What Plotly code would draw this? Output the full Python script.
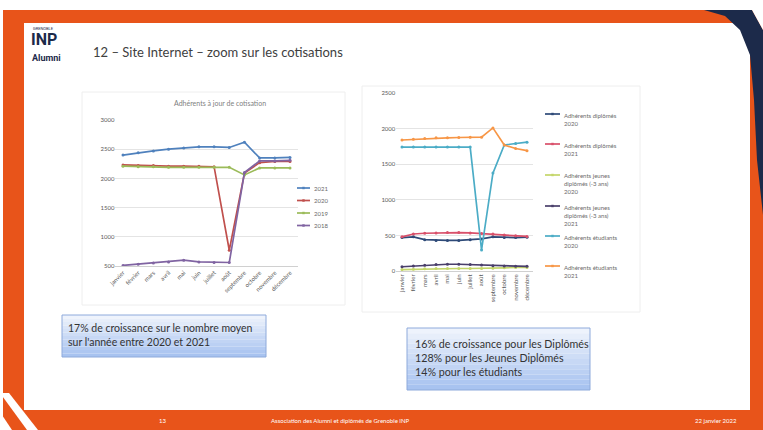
import plotly.graph_objects as go

W, H = 763, 430
def px(x): return x / W
def py(y): return 1 - y / H

# ---------------- data ----------------
months = ["janvier", "février", "mars", "avril", "mai", "juin", "juillet",
          "août", "septembre", "octobre", "novembre", "décembre"]

left_names = ["2021", "2020", "2019", "2018"]
left_2021 = [2400, 2440, 2470, 2500, 2520, 2540, 2540, 2530, 2620, 2350, 2350, 2360]
left_2020 = [2230, 2220, 2220, 2210, 2210, 2210, 2200, 770, 2090, 2270, 2290, 2290]
left_2019 = [2210, 2200, 2200, 2190, 2190, 2190, 2190, 2190, 2060, 2180, 2180, 2180]
left_2018 = [510, 530, 550, 570, 600, 570, 560, 560, 2100, 2300, 2300, 2310]
left_ticks = [500, 1000, 1500, 2000, 2500, 3000]

right_names = ["Adhérents diplômés<br>2020",
               "Adhérents diplômés<br>2021",
               "Adhérents jeunes<br>diplômés (-3 ans)<br>2020",
               "Adhérents jeunes<br>diplômés (-3 ans)<br>2021",
               "Adhérents étudiants<br>2020",
               "Adhérents étudiants<br>2021"]
right_dipl_2020 = [470, 480, 440, 430, 430, 430, 440, 450, 480, 470, 470, 475]
right_dipl_2021 = [480, 520, 530, 535, 540, 540, 535, 525, 520, 505, 495, 485]
right_jd_2020 = [20, 25, 30, 35, 35, 35, 35, 35, 40, 45, 50, 50]
right_jd_2021 = [60, 70, 80, 90, 95, 95, 90, 85, 75, 70, 68, 65]
right_etu_2020 = [1740, 1740, 1740, 1740, 1740, 1740, 1740, 295, 1375, 1770, 1790, 1810]
right_etu_2021 = [1840, 1850, 1860, 1870, 1870, 1875, 1880, 1880, 2010, 1770, 1720, 1690]
right_ticks = [0, 500, 1000, 1500, 2000, 2500]

left_colors = ["#4F81BD", "#C0504D", "#9BBB59", "#8064A2"]
right_colors = ["#2E4A78", "#D9506A", "#C4D66A", "#4A3F6B", "#4BACC6", "#F79646"]

ORANGE = "#E8541A"
NAVY = "#1C2A4A"
TXT = "#404040"
LEG = "#6a6a6a"

fig = go.Figure()

xs = list(range(12))
left_values = [left_2021, left_2020, left_2019, left_2018]
right_values = [right_dipl_2020, right_dipl_2021, right_jd_2020,
                right_jd_2021, right_etu_2020, right_etu_2021]

for name, vals, col in zip(left_names, left_values, left_colors):
    fig.add_trace(go.Scatter(x=xs, y=vals, name=name, mode="lines+markers",
                             line=dict(color=col, width=1.7),
                             marker=dict(size=3, color=col),
                             xaxis="x", yaxis="y", showlegend=False))

for name, vals, col in zip(right_names, right_values, right_colors):
    fig.add_trace(go.Scatter(x=xs, y=vals, name=name.replace("<br>", " "),
                             mode="lines+markers",
                             line=dict(color=col, width=1.7),
                             marker=dict(size=3, color=col),
                             xaxis="x2", yaxis="y2", showlegend=False))

shapes = []
def path(points):
    return "M " + " L ".join(f"{px(a):.5f},{py(b):.5f}" for a, b in points) + " Z"

# slide frame
shapes.append(dict(type="rect", xref="paper", yref="paper", x0=px(3), x1=px(763),
                   y0=py(430), y1=py(10), fillcolor=ORANGE, line=dict(width=0), layer="below"))
shapes.append(dict(type="rect", xref="paper", yref="paper", x0=px(24), x1=px(750),
                   y0=py(410), y1=py(23), fillcolor="white", line=dict(width=0), layer="below"))
# top-right navy swoosh
shapes.append(dict(type="path", xref="paper", yref="paper",
                   path=path([(704, 10), (725, 16), (740, 30), (750, 55), (754, 100),
                              (757, 160), (763, 215), (763, 30), (752, 10)]),
                   fillcolor=NAVY, line=dict(width=0), layer="below"))
shapes.append(dict(type="path", xref="paper", yref="paper",
                   path=path([(740, 0), (763, 0), (763, 30), (752, 10), (745, 4)]),
                   fillcolor="white", line=dict(width=0), layer="below"))
# bottom-left white stripes
shapes.append(dict(type="path", xref="paper", yref="paper",
                   path=path([(0, 393), (9, 393), (38, 430), (27, 430)]),
                   fillcolor="white", line=dict(width=0), layer="below"))
shapes.append(dict(type="path", xref="paper", yref="paper",
                   path=path([(0, 412), (12, 430), (0, 430)]),
                   fillcolor="white", line=dict(width=0), layer="below"))
# chart area borders
shapes.append(dict(type="rect", xref="paper", yref="paper", x0=px(82), x1=px(345),
                   y0=py(305), y1=py(92), fillcolor="rgba(0,0,0,0)",
                   line=dict(color="#eeeeee", width=1), layer="below"))
shapes.append(dict(type="rect", xref="paper", yref="paper", x0=px(362), x1=px(640),
                   y0=py(312), y1=py(86), fillcolor="rgba(0,0,0,0)",
                   line=dict(color="#eeeeee", width=1), layer="below"))

# gradient text boxes
def gradbox(x0, y0, x1, y1, n=12):
    for i in range(n):
        t = i / (n - 1)
        r = int(238 - t * (238 - 168))
        g = int(243 - t * (243 - 195))
        b = int(252 - t * (252 - 240))
        ya = y0 + (y1 - y0) * i / n
        yb = y0 + (y1 - y0) * (i + 1) / n
        shapes.append(dict(type="rect", xref="paper", yref="paper", x0=px(x0), x1=px(x1),
                           y0=py(yb), y1=py(ya), fillcolor=f"rgb({r},{g},{b})",
                           line=dict(width=0), layer="below"))
    shapes.append(dict(type="rect", xref="paper", yref="paper", x0=px(x0), x1=px(x1),
                       y0=py(y1), y1=py(y0), fillcolor="rgba(0,0,0,0)",
                       line=dict(color="#8EAADB", width=1), layer="below"))

gradbox(62, 315, 266, 357)
gradbox(407, 328, 590, 390)

def ann(text, x, y, size, color, xanchor="left", family="Lato", align="left", yanchor="middle"):
    return dict(text=text, x=px(x), y=py(y), xref="paper", yref="paper",
                xanchor=xanchor, yanchor=yanchor, align=align, showarrow=False,
                font=dict(family=family, size=size, color=color))

annotations = [
    ann("12 – Site Internet – zoom sur les cotisations", 91, 52, 13, TXT),
    ann("GRENOBLE", 31, 28, 4, NAVY, family="Roboto"),
    ann("<b>INP</b>", 29, 40, 16, NAVY, family="Roboto"),
    ann("<b>Alumni</b>", 30, 58, 9, NAVY, family="Roboto"),
    ann("Adhérents à jour de cotisation", 220, 103, 7, "#7f7f7f", xanchor="center"),
    ann("17% de croissance sur le nombre moyen<br>sur l'année entre 2020 et 2021",
        66, 335, 10.5, "#333333"),
    ann("16% de croissance pour les Diplômés<br>128% pour les Jeunes Diplômés<br>14% pour les étudiants",
        413, 357, 10.7, "#333333"),
    ann("13", 162, 420, 6, "white", xanchor="center"),
    ann("Association des Alumni et diplômés de Grenoble INP", 340, 420, 6, "white", xanchor="center"),
    ann("22 janvier 2022", 716, 420, 6, "white", xanchor="center"),
]

# legends (keys + labels)
left_leg_y = [188, 200.5, 213, 225.5]
for name, col, ly in zip(left_names, left_colors, left_leg_y):
    shapes.append(dict(type="line", xref="paper", yref="paper", x0=px(297), x1=px(310),
                       y0=py(ly), y1=py(ly), line=dict(color=col, width=1.7)))
    shapes.append(dict(type="rect", xref="paper", yref="paper", x0=px(302.3), x1=px(304.7),
                       y0=py(ly + 1.2), y1=py(ly - 1.2), fillcolor=col, line=dict(width=0)))
    annotations.append(ann(name, 312, ly, 6, LEG))

right_leg_y = [114, 144, 175, 206, 236, 266]
for name, col, ly in zip(right_names, right_colors, right_leg_y):
    shapes.append(dict(type="line", xref="paper", yref="paper", x0=px(545), x1=px(560),
                       y0=py(ly), y1=py(ly), line=dict(color=col, width=1.7)))
    shapes.append(dict(type="rect", xref="paper", yref="paper", x0=px(551.3), x1=px(553.7),
                       y0=py(ly + 1.2), y1=py(ly - 1.2), fillcolor=col, line=dict(width=0)))
    annotations.append(ann(name, 562, ly - 4.5, 6, LEG, yanchor="top"))

tickfont = dict(family="Lato", size=6, color="#595959")

fig.update_layout(
    template="none",
    width=W, height=H, margin=dict(l=0, r=0, t=0, b=0, pad=0, autoexpand=False),
    paper_bgcolor="white", plot_bgcolor="rgba(0,0,0,0)",
    shapes=shapes, annotations=annotations, showlegend=False,
    xaxis=dict(domain=[px(115.4), px(297.6)], range=[-0.5, 11.5], tickvals=xs, ticktext=months,
               tickangle=-45, tickfont=tickfont, showgrid=False, zeroline=False, ticks="",
               showline=True, linecolor="#d0d0d0", linewidth=1, fixedrange=True, automargin=False),
    yaxis=dict(domain=[py(266), py(120)], range=[500, 3000], tickvals=left_ticks,
               tickfont=tickfont, showgrid=True, gridcolor="#e4e4e4", gridwidth=1, ticks="",
               zeroline=False, showline=False, fixedrange=True, automargin=False),
    xaxis2=dict(domain=[px(396.3), px(532.7)], range=[-0.5, 11.5], tickvals=xs, ticktext=months,
                tickangle=-90, tickfont=tickfont, showgrid=False, zeroline=False, ticks="",
                showline=True, linecolor="#d0d0d0", linewidth=1, anchor="y2", fixedrange=True,
                automargin=False),
    yaxis2=dict(domain=[py(271), py(93)], range=[0, 2500], tickvals=right_ticks,
                tickfont=tickfont, showgrid=True, gridcolor="#e4e4e4", gridwidth=1, ticks="",
                zeroline=False, showline=False, anchor="x2", fixedrange=True, automargin=False),
)

fig.write_html("out.html", config={"displayModeBar": False},
               post_script="document.body.style.margin='0';")
